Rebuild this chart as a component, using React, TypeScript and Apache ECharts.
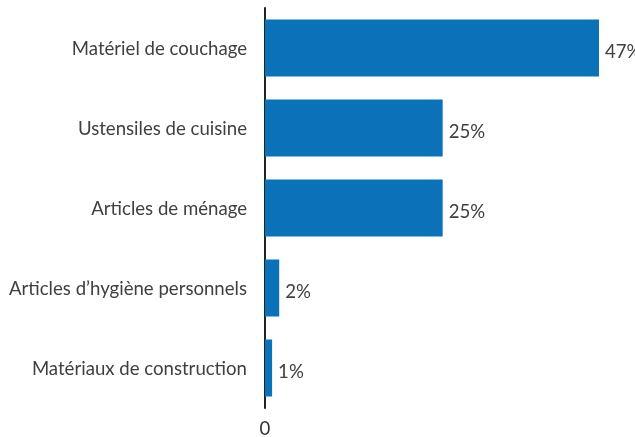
import React, { useEffect, useRef } from "react";
import * as echarts from "echarts";

const categories = [
  "Matériel de couchage",
  "Ustensiles de cuisine",
  "Articles de ménage",
  "Articles d’hygiène personnels",
  "Matériaux de construction",
];
const values = [47, 25, 25, 2, 1];
const xTickLabels = ["0"];

export default function App() {
  const ref = useRef<HTMLDivElement>(null);
  useEffect(() => {
    if (!ref.current) return;
    const chart = echarts.init(ref.current, null, { renderer: "svg" });
    chart.setOption({
      animation: false,
      textStyle: { fontFamily: "Lato" },
      grid: { left: 265, right: 36, top: 8, bottom: 29, containLabel: false },
      xAxis: {
        type: "value",
        min: 0,
        max: 47,
        interval: 47,
        axisLine: { show: false },
        axisTick: { show: false },
        splitLine: { show: false },
        axisLabel: {
          fontFamily: "Lato",
          fontSize: 18.6,
          color: "#333",
          margin: 10,
          formatter: (v: number) => (v === 0 ? xTickLabels[0] : ""),
        },
      },
      yAxis: {
        type: "category",
        inverse: true,
        data: categories,
        axisLine: { show: true, lineStyle: { color: "#222", width: 2 } },
        axisTick: { show: false },
        axisLabel: {
          fontFamily: "Lato",
          fontSize: 18.6,
          color: "#404040",
          margin: 18,
        },
      },
      series: [
        {
          type: "bar",
          data: values,
          barWidth: 57,
          itemStyle: { color: "#0b72ba" },
          label: {
            show: true,
            position: "right",
            distance: 6,
            fontFamily: "Lato",
            fontSize: 18.6,
            color: "#404040",
            offset: [0, 3],
            formatter: "{c}%",
          },
        },
      ],
    });
    return () => chart.dispose();
  }, []);
  return (
    <div
      ref={ref}
      style={{ position: "fixed", left: 0, top: 0, width: 635, height: 437 }}
    />
  );
}
